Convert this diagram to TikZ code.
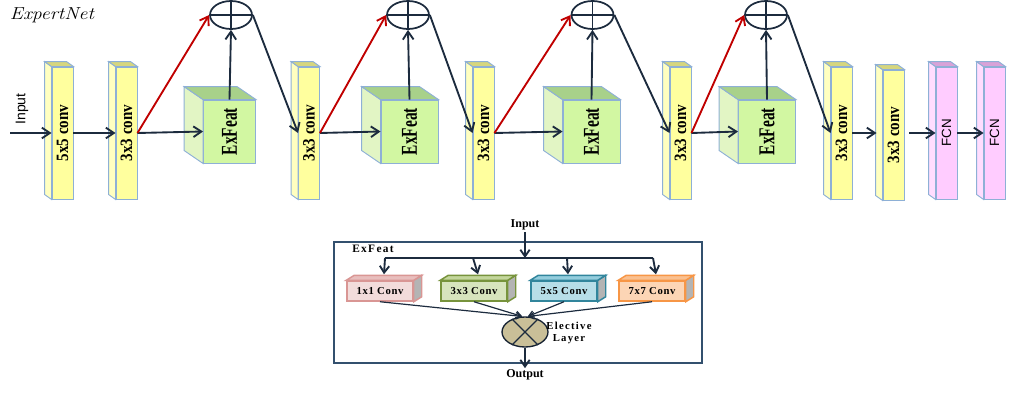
\documentclass[tikz,border=0pt]{standalone}
\usepackage{fontspec}
\usetikzlibrary{arrows.meta,shapes.geometric,calc}
\newfontfamily\tnr{Liberation Serif}
\newfontfamily\tnrsp{Liberation Serif}[LetterSpace=6]
\newfontfamily\tnrwide{Liberation Serif}[LetterSpace=12]
\newfontfamily\arial{Liberation Sans}

\definecolor{navy}{HTML}{1C2B3E}
\definecolor{redarrow}{HTML}{C00000}
\definecolor{edgeblue}{HTML}{8EB0D6}
\definecolor{barfront}{HTML}{FFFF9E}
\definecolor{barside}{HTML}{FFFFC0}
\definecolor{bartop}{HTML}{D6D67E}
\definecolor{cubefront}{HTML}{D2F7A2}
\definecolor{cubeside}{HTML}{E2F5C4}
\definecolor{cubetop}{HTML}{A8D18A}
\definecolor{fcnfront}{HTML}{FFCCFF}
\definecolor{fcnside}{HTML}{FFDDFF}
\definecolor{fcntop}{HTML}{D8A2D8}
\definecolor{panelblue}{HTML}{33506E}
\definecolor{graysideA}{HTML}{B4B4B4}
\definecolor{pinkF}{HTML}{F2DCDB}\definecolor{pinkT}{HTML}{E8BEBD}\definecolor{pinkB}{HTML}{D99694}
\definecolor{greenF}{HTML}{D7E4BD}\definecolor{greenT}{HTML}{C3D69B}\definecolor{greenB}{HTML}{77933C}
\definecolor{blueF}{HTML}{B7DEE8}\definecolor{blueT}{HTML}{93CDDD}\definecolor{blueB}{HTML}{31859C}
\definecolor{orangeF}{HTML}{FCD5B5}\definecolor{orangeT}{HTML}{FAC090}\definecolor{orangeB}{HTML}{F79646}
\definecolor{elective}{HTML}{C9BF98}

% side and top faces of a block whose depth runs up and to the left
\newcommand{\leftsolid}[6]{%
  \draw[#6, fill=#4] (#1.north west) -- ++(#2,#3) -- ($(#1.south west)+(#2,#3)$) -- (#1.south west) -- cycle;
  \draw[#6, fill=#5] (#1.north west) -- ++(#2,#3) -- ($(#1.north east)+(#2,#3)$) -- (#1.north east) -- cycle;}
% side and top faces of a block whose depth runs up and to the right
\newcommand{\rightsolid}[6]{%
  \draw[#6, fill=#4] (#1.north east) -- ++(#2,#3) -- ($(#1.south east)+(#2,#3)$) -- (#1.south east) -- cycle;
  \draw[#6, fill=#5] (#1.north west) -- ++(#2,#3) -- ($(#1.north east)+(#2,#3)$) -- (#1.north east) -- cycle;}

\newcommand{\convtext}[1]{\rotatebox{90}{\scalebox{0.87}[1]{\tnr\bfseries\fontsize{13}{13}\selectfont #1}}}
\newcommand{\feattext}{\rotatebox{90}{\scalebox{0.68}[1]{\tnr\bfseries\fontsize{17}{17}\selectfont ExFeat}}}
\newcommand{\fcntext}{\rotatebox{90}{\arial\fontsize{10}{10}\selectfont FCN}}

\begin{document}
\begin{tikzpicture}[x=0.75pt,y=-0.75pt,
  bar/.style={draw=edgeblue, line width=0.7pt, fill=barfront, inner sep=0pt,
              minimum width=21*0.75pt, minimum height=132*0.75pt},
  fcn/.style={bar, fill=fcnfront},
  cube/.style={draw=edgeblue, line width=0.7pt, fill=cubefront, inner sep=0pt,
               minimum width=57*0.75pt, minimum height=63*0.75pt},
  adder/.style={ellipse, draw=navy, line width=1.3pt, fill=white, inner sep=0pt,
                minimum width=42*0.75pt, minimum height=28*0.75pt},
  flow/.style={draw=navy, line width=1.4pt, -{Straight Barb[length=6pt,width=8pt]}},
  skip/.style={flow, draw=redarrow},
  convbox/.style={line width=1.1pt, inner sep=0pt, minimum width=66*0.75pt,
                  minimum height=20*0.75pt, font=\tnrsp\bfseries\fontsize{8}{8}\selectfont},
  thin/.style={draw=navy, line width=0.9pt, -{Straight Barb[length=4pt,width=5pt]}},
  small/.style={font=\tnr\bfseries\fontsize{9}{9}\selectfont, inner sep=1pt}]
\useasboundingbox (0,0) rectangle (1025,400);

% ---------- title ----------
\node (title) at (52,15) {\scalebox{1.14}[1]{\itshape\fontsize{13}{13}\selectfont ExpertNet}};

% ---------- main chain ----------
\node[bar] (b1) at (62.5,133) {\convtext{5x5 conv}};
\leftsolid{b1}{-7}{-5}{barside}{bartop}{draw=edgeblue, line width=0.7pt}
\node[bar] (b2) at (126.5,133) {\convtext{3x3 conv}};
\leftsolid{b2}{-7}{-5}{barside}{bartop}{draw=edgeblue, line width=0.7pt}
\node[bar] (b3) at (309,133) {\convtext{3x3 conv}};
\leftsolid{b3}{-7}{-5}{barside}{bartop}{draw=edgeblue, line width=0.7pt}
\node[bar] (b4) at (483.5,133) {\convtext{3x3 conv}};
\leftsolid{b4}{-7}{-5}{barside}{bartop}{draw=edgeblue, line width=0.7pt}
\node[bar] (b5) at (680.5,133) {\convtext{3x3 conv}};
\leftsolid{b5}{-7}{-5}{barside}{bartop}{draw=edgeblue, line width=0.7pt}
\node[bar] (b6) at (841.5,133) {\convtext{3x3 conv}};
\leftsolid{b6}{-7}{-5}{barside}{bartop}{draw=edgeblue, line width=0.7pt}
\node[bar, minimum height=130*0.75pt] (b7) at (893.5,135) {\convtext{3x3 conv}};
\leftsolid{b7}{-7}{-5}{barside}{bartop}{draw=edgeblue, line width=0.7pt}
\node[fcn] (f1) at (946.5,133) {\fcntext};
\leftsolid{f1}{-7}{-5}{fcnside}{fcntop}{draw=edgeblue, line width=0.7pt}
\node[fcn] (f2) at (994.5,133) {\fcntext};
\leftsolid{f2}{-7}{-5}{fcnside}{fcntop}{draw=edgeblue, line width=0.7pt}

% feature extraction blocks
\node[cube, minimum width=52*0.75pt] (e1) at (229.5,131.5) {\feattext};
\leftsolid{e1}{-19}{-13}{cubeside}{cubetop}{draw=edgeblue, line width=0.7pt}
\node[cube] (e2) at (409.5,131.5) {\feattext};
\leftsolid{e2}{-19}{-13}{cubeside}{cubetop}{draw=edgeblue, line width=0.7pt}
\node[cube] (e3) at (591.5,131.5) {\feattext};
\leftsolid{e3}{-19}{-13}{cubeside}{cubetop}{draw=edgeblue, line width=0.7pt}
\node[cube] (e4) at (767,131.5) {\feattext};
\leftsolid{e4}{-19}{-13}{cubeside}{cubetop}{draw=edgeblue, line width=0.7pt}

% summation nodes
\foreach \n/\cx in {c1/231, c2/408, c3/592.5, c4/766} {
  \node[adder] (\n) at (\cx,15) {};
  \draw[navy, line width=1.3pt] (\n.north) -- (\n.south) (\n.west) -- (\n.east);
}

% input
\coordinate (inp) at (10,133);
\node[font=\arial\fontsize{10.5}{10.5}\selectfont, rotate=90] (inlabel) at (22,109) {Input};
\draw[flow] (inp) -- (b1.west);
\draw[flow] (b1.east) -- (b2.west);

% residual stages
\draw[flow] (b2.east) -- (e1.west);
\draw[skip] (b2.east) -- (c1.west);
\draw[flow] (e1.north) -- (c1.south);
\draw[flow] (c1.east) -- (b3.west);

\draw[flow] (b3.east) -- (e2.west);
\draw[skip] (b3.east) -- (c2.west);
\draw[flow] (e2.north) -- (c2.south);
\draw[flow] (c2.east) -- (b4.west);

\draw[flow] (b4.east) -- (e3.west);
\draw[skip] (b4.east) -- (c3.west);
\draw[flow] (e3.north) -- (c3.south);
\draw[flow] (c3.east) -- (b5.west);

\draw[flow] (b5.east) -- (e4.west);
\draw[skip] (b5.east) -- (c4.west);
\draw[flow] (e4.north) -- (c4.south);
\draw[flow] (c4.east) -- (b6.west);

% head
\draw[flow] (b6.east) -- ($(b7.west)+(-6,-2)$);
\draw[flow] ($(b7.east)+(5,-2)$) -- (f1.west);
\draw[flow] (f1.east) -- (f2.west);

% ---------- ExFeat detail ----------
\node[draw=panelblue, line width=1.2pt, minimum width=368*0.75pt, minimum height=121*0.75pt,
      inner sep=0pt] (panel) at (518,302.5) {};
\node[font=\tnrwide\bfseries\fontsize{8.5}{8.5}\selectfont, inner sep=0pt] (plabel) at (373,249) {ExFeat};
\node[small] (pin) at (525,225) {Input};
\coordinate (bus) at (525,258);
\coordinate (busL) at (385,258);
\coordinate (busR) at (653,258);
\draw[navy, line width=1.4pt, -{Straight Barb[length=5pt,width=7pt]}] (pin.south) -- (bus);
\draw[navy, line width=1.4pt] (busL) -- (busR);

\node[convbox, draw=pinkB, fill=pinkF] (k1) at (380,291) {1x1 Conv};
\rightsolid{k1}{8}{-5}{graysideA}{pinkT}{draw=pinkB, line width=1.1pt}
\node[convbox, draw=greenB, fill=greenF] (k2) at (474,291) {3x3 Conv};
\rightsolid{k2}{8}{-5}{graysideA}{greenT}{draw=greenB, line width=1.1pt}
\node[convbox, draw=blueB, fill=blueF] (k3) at (564,291) {5x5 Conv};
\rightsolid{k3}{8}{-5}{graysideA}{blueT}{draw=blueB, line width=1.1pt}
\node[convbox, draw=orangeB, fill=orangeF] (k4) at (652,291) {7x7 Conv};
\rightsolid{k4}{8}{-5}{graysideA}{orangeT}{draw=orangeB, line width=1.1pt}

\foreach \k/\bx in {k1/385, k2/473, k3/567, k4/653}
  \draw[navy, line width=1.4pt, -{Straight Barb[length=5pt,width=7pt]}] (\bx,258) -- ($(\k.north)+(4,-6)$);

\node[ellipse, draw=navy!80!black, line width=1pt, fill=elective, inner sep=0pt,
      minimum width=46*0.75pt, minimum height=30*0.75pt] (el) at (525,332) {};
\draw[navy, line width=0.9pt] (el.45) -- (el.225) (el.135) -- (el.315);
\node[font=\tnrwide\bfseries\fontsize{8}{9.5}\selectfont, align=center, inner sep=0pt] (ellabel) at (569,333) {Elective\\Layer};

\draw[thin] (k1.south) -- (el.100);
\draw[thin] (k2.south) -- (el.100);
\draw[thin] (k3.south) -- (el.80);
\draw[thin] (k4.south) -- (el.80);

\node[small] (pout) at (525,375) {Output};
\draw[navy, line width=1.4pt, -{Straight Barb[length=5pt,width=7pt]}] (el.south) -- (pout.north);
\end{tikzpicture}
\end{document}
